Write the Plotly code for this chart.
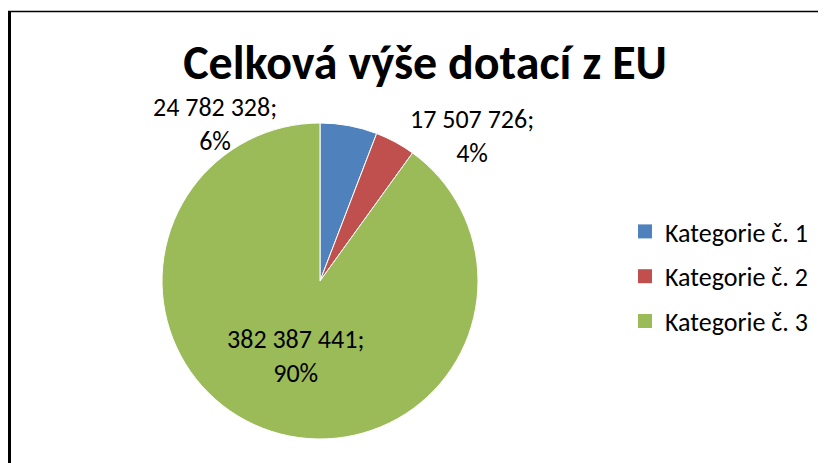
import plotly.graph_objects as go

# ----- Data ----- #
kategorie = ["Kategorie č. 1", "Kategorie č. 2", "Kategorie č. 3"]
castky = [24782328, 17507726, 382387441]
barvy = ["#4F81BD", "#C0504D", "#9BBB59"]

celkem = sum(castky)


def popisek(v):
    cislo = f"{v:,}".replace(",", " ")
    return f"{cislo};<br>{round(v / celkem * 100)}%"


font_name = "Carlito, Calibri, Lato, sans-serif"
W, H = 826, 463

fig = go.Figure()
fig.add_trace(go.Pie(
    labels=kategorie,
    values=castky,
    sort=False,
    direction="clockwise",
    rotation=0,
    marker=dict(colors=barvy, line=dict(color="white", width=1)),
    text=["", "", popisek(castky[2])],
    textinfo="text",
    textposition=["none", "none", "inside"],
    insidetextorientation="horizontal",
    textfont=dict(size=26, color="black", family=font_name),
    domain=dict(x=[154 / W, 470 / W], y=[1 - 431 / H, 1 - 115 / H]),
    hoverinfo="label+value+percent",
    showlegend=False,
))

# legenda (prázdné stopy, aby šla nastavit mezera mezi položkami)
for i in range(len(kategorie)):
    fig.add_trace(go.Scatter(
        x=[None], y=[None], mode="markers", name=kategorie[i],
        legendgroup=kategorie[i],
        marker=dict(symbol="square", size=14, color=barvy[i]),
    ))

# popisky malých výsečí
fig.add_annotation(x=207 / W, y=1 - 116 / H, xref="paper", yref="paper",
                   xanchor="center", yanchor="middle",
                   text=popisek(castky[0]), showarrow=False,
                   font=dict(size=26, color="black", family=font_name))
fig.add_annotation(x=464 / W, y=1 - 128 / H, xref="paper", yref="paper",
                   xanchor="center", yanchor="middle",
                   text=popisek(castky[1]), showarrow=False,
                   font=dict(size=26, color="black", family=font_name))

# rámeček grafu
fig.add_shape(type="line", xref="paper", yref="paper",
              x0=1.5 / W, x1=1.5 / W, y0=-0.1, y1=1 - 3 / H,
              line=dict(color="black", width=3))
fig.add_shape(type="line", xref="paper", yref="paper",
              x0=0, x1=1.1, y0=1 - 3.5 / H, y1=1 - 3.5 / H,
              line=dict(color="black", width=1.5))

fig.update_xaxes(visible=False)
fig.update_yaxes(visible=False)

fig.update_layout(
    width=W,
    height=H,
    margin=dict(l=0, r=0, t=0, b=0),
    paper_bgcolor="white",
    plot_bgcolor="rgba(0,0,0,0)",
    title=dict(text="<b>Celková výše dotací z EU</b>",
               x=417 / W, xanchor="center",
               y=1 - 54 / H, yanchor="middle",
               font=dict(size=48, color="black", family=font_name)),
    legend=dict(x=617 / W, y=1 - 200 / H, xanchor="left", yanchor="top",
                tracegroupgap=8,
                font=dict(size=26, color="black", family=font_name),
                bgcolor="rgba(0,0,0,0)"),
)

fig.write_html("out.html")
